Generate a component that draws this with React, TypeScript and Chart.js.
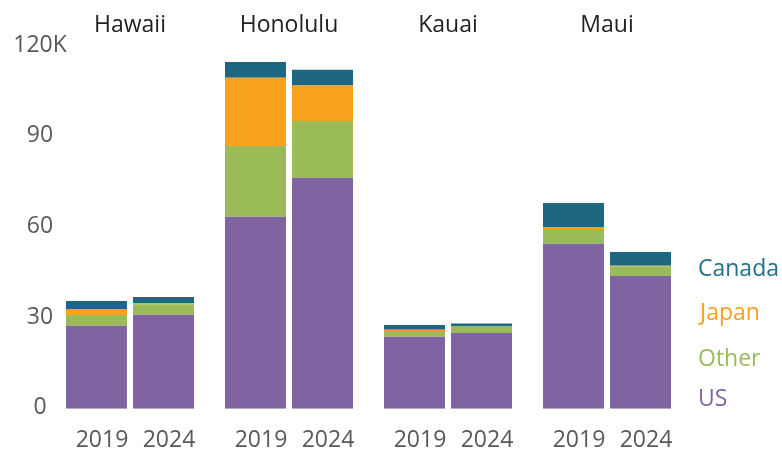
import React, { useEffect, useRef } from "react";
import { Chart, registerables } from "chart.js";

Chart.register(...registerables);

const islands = ["Hawaii", "Honolulu", "Kauai", "Maui"];
const years = ["2019", "2024"];

const us2019 = [27.5, 63.6, 23.8, 54.6];
const us2024 = [31.1, 76.5, 25.1, 43.9];
const other2019 = [3.5, 23.4, 1.9, 4.9];
const other2024 = [3.5, 18.8, 2.0, 3.3];
const japan2019 = [2.0, 22.6, 0.45, 0.7];
const japan2024 = [0.3, 11.7, 0.1, 0.1];
const canada2019 = [2.7, 5.2, 1.6, 7.9];
const canada2024 = [2.1, 5.2, 1.0, 4.6];

const yTicks = [0, 30, 60, 90, 120];
const yTickLabels = ["0", "30", "60", "90", "120K"];

const seriesNames = ["US", "Other", "Japan", "Canada"];
const seriesColors = ["#8064A2", "#9BBB59", "#F7A11D", "#1D6880"];
const legendColors = ["#8064A2", "#9BBB59", "#F7A11D", "#23708A"];

const FONT = "'Open Sans', 'Noto Sans', sans-serif";

export default function App() {
  const ref = useRef<HTMLCanvasElement | null>(null);

  useEffect(() => {
    document.body.style.margin = "0";
    const canvas = ref.current;
    if (!canvas) return;

    const values2019 = [us2019, other2019, japan2019, canada2019];
    const values2024 = [us2024, other2024, japan2024, canada2024];

    const datasets: any[] = [];
    seriesNames.forEach((name, i) => {
      datasets.push({
        label: name + " " + years[0],
        data: values2019[i],
        backgroundColor: seriesColors[i],
        borderWidth: 0,
        stack: years[0],
        categoryPercentage: 0.843,
        barPercentage: 0.91,
      });
      datasets.push({
        label: name + " " + years[1],
        data: values2024[i],
        backgroundColor: seriesColors[i],
        borderWidth: 0,
        stack: years[1],
        categoryPercentage: 0.843,
        barPercentage: 0.91,
      });
    });

    const annotations = {
      id: "annotations",
      afterDraw(chart: any) {
        const ctx = chart.ctx;
        const area = chart.chartArea;
        const yScale = chart.scales.y;
        ctx.save();
        ctx.font = `23px ${FONT}`;
        ctx.textBaseline = "middle";
        // y tick labels
        ctx.fillStyle = "#595959";
        ctx.textAlign = "center";
        yTicks.forEach((v, i) => {
          ctx.fillText(yTickLabels[i], 40, yScale.getPixelForValue(v) - 1);
        });
        // year labels under each bar
        [0, 1].forEach((di) => {
          const meta = chart.getDatasetMeta(di);
          meta.data.forEach((el: any) => {
            ctx.fillText(years[di], el.x + 5.5, area.bottom + 32);
          });
        });
        // legend on the right
        const offsets = [9.5, 49.5, 95.5, 139.5];
        ctx.textAlign = "left";
        seriesNames.forEach((name, i) => {
          ctx.fillStyle = legendColors[i];
          ctx.fillText(name, area.right + 11.5 + (name === "Japan" ? 2 : 0), area.bottom - offsets[i]);
        });
        ctx.restore();
      },
    };

    const chart = new Chart(canvas, {
      type: "bar",
      data: { labels: islands, datasets },
      plugins: [annotations],
      options: {
        animation: false,
        responsive: false,
        maintainAspectRatio: false,
        layout: { padding: { left: 0, right: 95.5, top: 0, bottom: 42.3 } },
        plugins: {
          legend: { display: false },
          tooltip: { enabled: false },
        },
        scales: {
          x: {
            type: "category",
            position: "top",
            stacked: true,
            grid: { display: false },
            border: { display: false },
            ticks: {
              font: { family: FONT, size: 23 },
              color: "#222222",
              padding: -1,
            },
            afterFit(scale: any) {
              scale.height = 46.3;
            },
          },
          y: {
            stacked: true,
            min: 0,
            max: 120,
            afterBuildTicks(scale: any) {
              scale.ticks = yTicks.map((v) => ({ value: v }));
            },
            grid: { display: false },
            border: { display: false },
            ticks: { display: false },
            afterFit(scale: any) {
              scale.width = 50.5;
            },
          },
        },
      },
    });

    return () => chart.destroy();
  }, []);

  return (
    <div style={{ width: 782, height: 451 }}>
      <canvas ref={ref} width={782} height={451} style={{ display: "block" }} />
    </div>
  );
}
